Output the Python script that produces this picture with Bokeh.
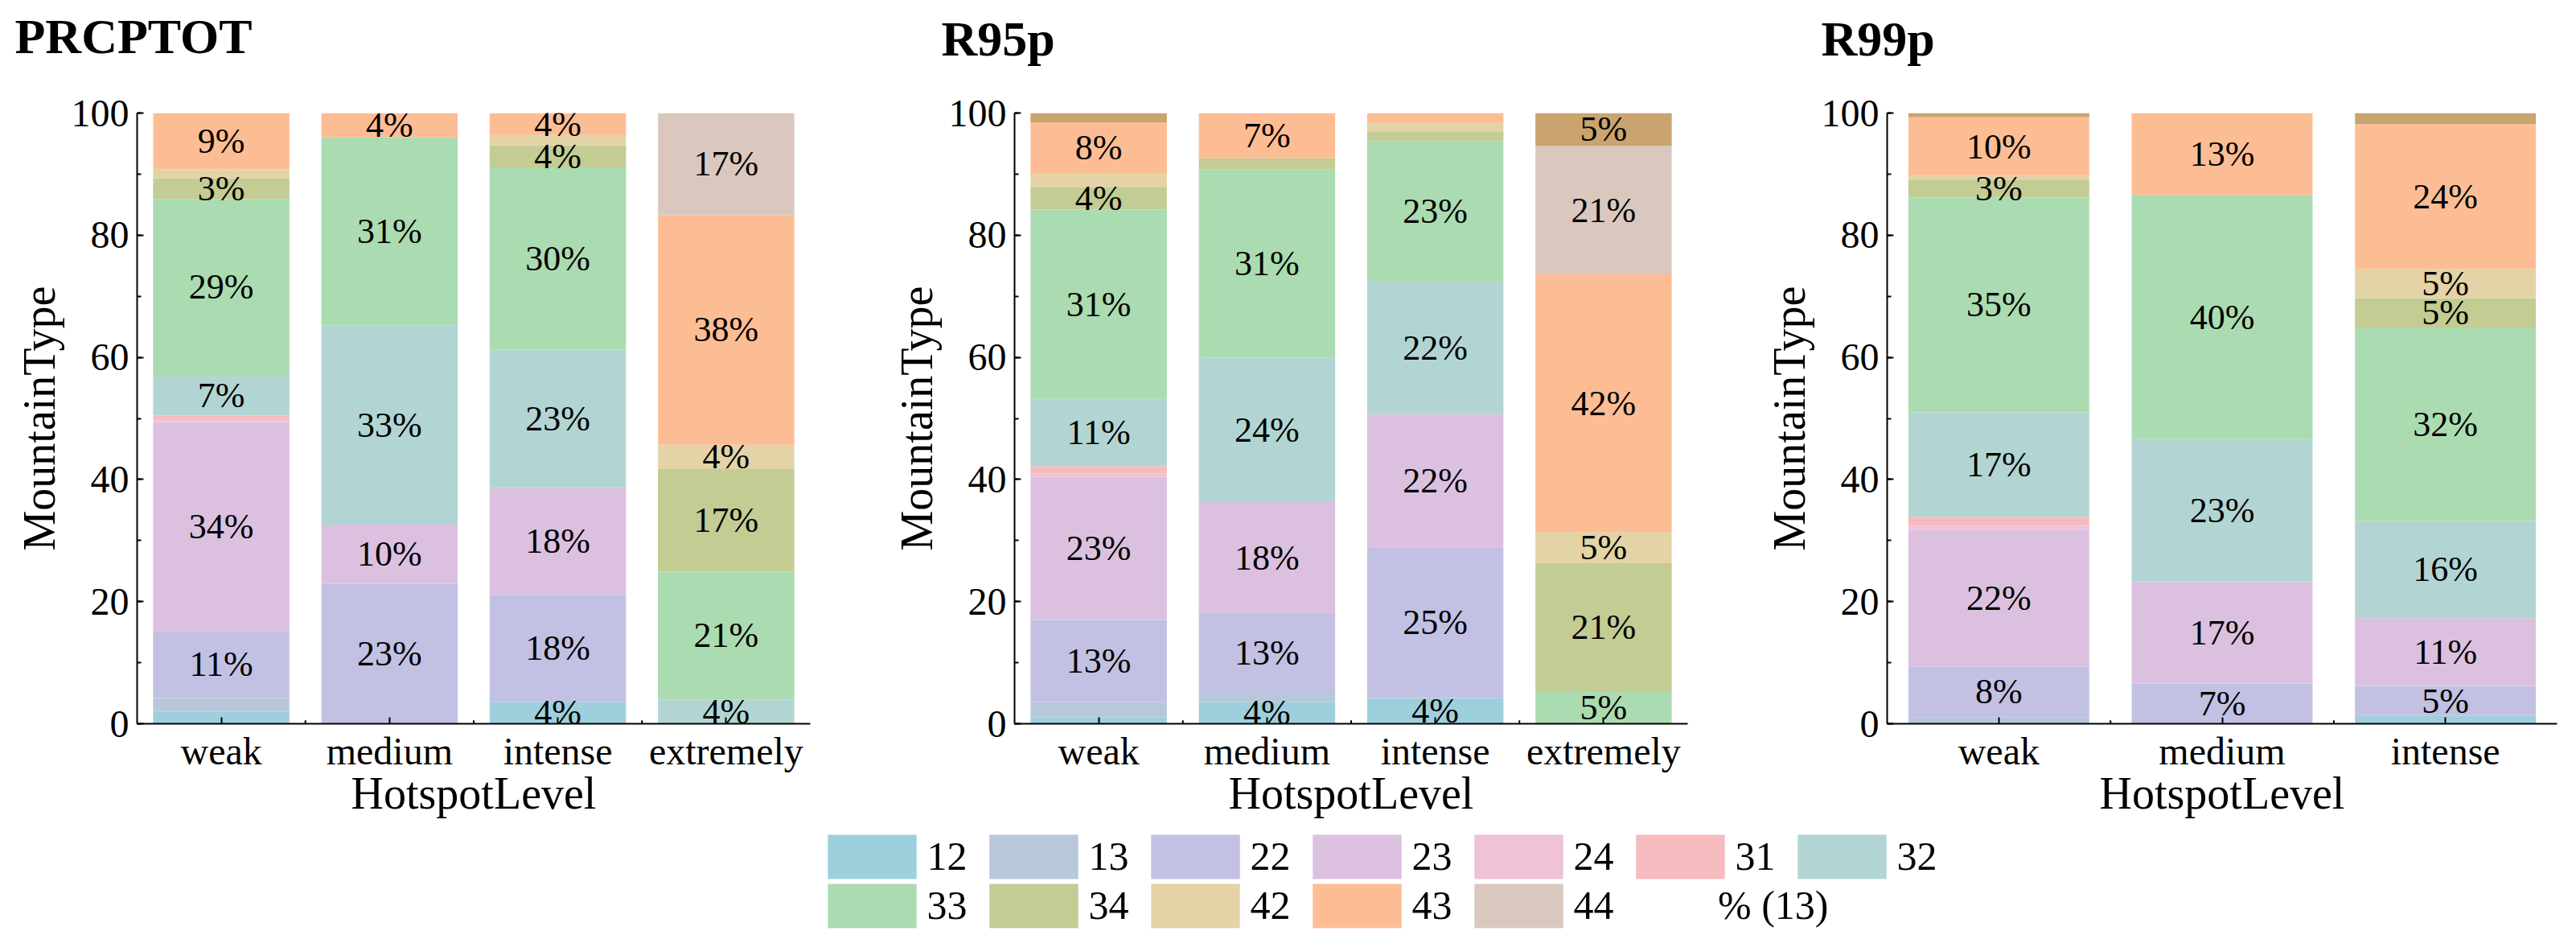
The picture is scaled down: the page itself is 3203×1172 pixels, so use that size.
from bokeh.plotting import figure
from bokeh.models import (ColumnDataSource, FactorRange, Range1d, SingleIntervalTicker,
                          Legend, LegendItem, Title)
from bokeh.layouts import row, column
from bokeh.core.properties import value
from bokeh.embed import file_html
from bokeh.resources import INLINE

FONT = "'Liberation Serif', 'Times New Roman', serif"

# ---------------- data ----------------
types = ["12", "13", "22", "23", "24", "31", "32", "33", "34", "42", "43", "44", "other"]
colors = ["#9ecfdc", "#b8c7da", "#c2c1e3", "#dbc1df", "#f0c2d6", "#f6bbbe", "#b2d5d3",
          "#abdbb0", "#c2cc93", "#e3d3a6", "#fdbd94", "#dac8be", "#c9a46f"]

levels4 = ["weak", "medium", "intense", "extremely"]
levels3 = ["weak", "medium", "intense"]

#                 12   13   22    23    24   31   32    33    34   42   43    44   other
prcptot_weak =    [2.0, 2.2, 11.0, 34.2, 0.6, 0.5, 6.6, 28.8, 3.4, 1.5, 9.2, 0.0, 0.0]
prcptot_medium =  [0.0, 0.0, 22.9, 9.7, 0.0, 0.0, 32.6, 30.8, 0.0, 0.0, 4.0, 0.0, 0.0]
prcptot_intense = [3.6, 0.0, 17.5, 17.5, 0.0, 0.0, 22.7, 29.8, 3.6, 1.7, 3.6, 0.0, 0.0]
prcptot_extreme = [0.0, 0.0, 0.0, 0.0, 0.0, 0.0, 4.0, 20.9, 16.8, 4.0, 37.6, 16.7, 0.0]

r95p_weak =       [1.1, 2.5, 13.4, 23.4, 0.6, 1.2, 11.0, 31.0, 3.6, 2.4, 8.3, 0.0, 1.5]
r95p_medium =     [3.6, 1.6, 12.9, 18.2, 0.0, 0.0, 23.6, 30.9, 1.8, 0.0, 7.4, 0.0, 0.0]
r95p_intense =    [4.2, 0.0, 24.7, 21.8, 0.0, 0.0, 21.7, 23.1, 1.4, 1.5, 1.6, 0.0, 0.0]
r95p_extreme =    [0.0, 0.0, 0.0, 0.0, 0.0, 0.0, 0.0, 5.2, 21.1, 5.1, 42.2, 21.0, 5.4]

r99p_weak =       [0.0, 1.1, 8.3, 22.4, 0.6, 1.5, 17.1, 35.2, 2.9, 0.6, 9.6, 0.0, 0.7]
r99p_medium =     [0.0, 0.0, 6.6, 16.6, 0.0, 0.0, 23.4, 40.0, 0.0, 0.0, 13.4, 0.0, 0.0]
r99p_intense =    [1.3, 0.0, 4.9, 11.1, 0.0, 0.0, 15.9, 31.7, 4.8, 4.7, 23.8, 0.0, 1.8]

legend_types = types[:12]
legend_colors = colors[:12]
extra_legend_label = "% (13)"

FIG_H = 1030
FRAME_TOP = 140
FRAME_BOTTOM = 899


def make_panel(title, levels, rows, width, mbl, mbr, title_dx, title_gap):
    data = {"level": levels}
    for i, t in enumerate(types):
        data[t] = [r[i] for r in rows]
    src = ColumnDataSource(data)
    p = figure(x_range=FactorRange(*levels), y_range=Range1d(0, 100),
               width=width, height=FIG_H, output_backend="svg", toolbar_location=None,
               min_border_left=mbl, min_border_right=mbr,
               min_border_top=FRAME_TOP, min_border_bottom=FIG_H - FRAME_BOTTOM)
    p.vbar_stack(types, x="level", width=0.81, source=src,
                 fill_color=colors, line_color=None)

    # segment labels
    xs, ys, txt = [], [], []
    for j, lev in enumerate(levels):
        bottom = 0.0
        for i, t in enumerate(types):
            v = rows[j][i]
            if v >= 2.75:
                xs.append(lev)
                ys.append(bottom + v / 2)
                txt.append(f"{round(v)}%")
            bottom += v
    p.text(x=xs, y=ys, text=txt, text_font=value(FONT), text_font_size="44px",
           text_align="center", text_baseline="middle", text_color="black")

    # small minor ticks between categories on the x axis
    bounds = list(range(1, len(levels)))
    p.segment(x0=bounds, x1=bounds, y0=[0] * len(bounds), y1=[0.55] * len(bounds),
              line_color="black", line_width=2)

    # panel title: an invisible spacer title next to the frame, the real one above it
    p.add_layout(Title(text=" ", text_font_size="10px", standoff=title_gap), "above")
    p.add_layout(Title(text=title, align="left", offset=title_dx, standoff=0,
                       vertical_align="bottom", text_font=FONT, text_font_size="62px",
                       text_font_style="bold", text_color="black"), "above")

    p.xgrid.visible = False
    p.ygrid.visible = False
    p.outline_line_color = None

    p.yaxis.ticker = SingleIntervalTicker(interval=20, num_minor_ticks=2)
    for ax in (p.xaxis, p.yaxis):
        ax.axis_line_width = 2
        ax.axis_line_color = "black"
        ax.major_tick_line_width = 2
        ax.major_tick_line_color = "black"
        ax.minor_tick_line_width = 2
        ax.minor_tick_line_color = "black"
        ax.major_tick_out = 0
        ax.minor_tick_out = 0
        ax.major_label_text_font = FONT
        ax.major_label_text_font_size = "48px"
        ax.major_label_text_color = "black"
        ax.axis_label_text_font = FONT
        ax.axis_label_text_font_size = "56px"
        ax.axis_label_text_font_style = "normal"
        ax.axis_label_text_color = "black"
    p.yaxis.major_tick_in = 8
    p.yaxis.minor_tick_in = 5
    p.yaxis.major_label_standoff = 10
    p.yaxis.axis_label_standoff = 6
    p.yaxis.axis_label = "MountainType"
    p.xaxis.major_tick_in = 8
    p.xaxis.major_label_standoff = 7
    p.xaxis.axis_label_standoff = -8
    p.xaxis.axis_label = "HotspotLevel"
    return p


p1 = make_panel("PRCPTOT", levels4,
                [prcptot_weak, prcptot_medium, prcptot_intense, prcptot_extreme],
                1100, 170, 93, -152, 49)
p2 = make_panel("R95p", levels4,
                [r95p_weak, r95p_medium, r95p_intense, r95p_extreme],
                1090, 161, 92, -91, 46)
p3 = make_panel("R99p", levels3,
                [r99p_weak, r99p_medium, r99p_intense],
                1005, 153, 16, -82, 46)

# ---------------- legend ----------------
LH = 142
lf = figure(width=3195, height=LH, x_range=Range1d(0, 1), y_range=Range1d(0, 1),
            output_backend="svg", toolbar_location=None, min_border=0,
            x_axis_type=None, y_axis_type=None)
lf.xgrid.visible = False
lf.ygrid.visible = False
lf.outline_line_color = None

items = []
for t, c in zip(legend_types, legend_colors):
    # one point far outside the visible range: only its legend swatch is seen
    r = lf.vbar(x=[-10], bottom=[-10], top=[-9], width=0.5, fill_color=c, line_color=None)
    items.append(LegendItem(label=t, renderers=[r]))
blank = lf.vbar(x=[-10], bottom=[-10], top=[-9], width=0.5, fill_alpha=0, line_alpha=0)
blank_item = LegendItem(label=extra_legend_label, renderers=[blank])

# area legend glyphs are drawn inset by 10% of the glyph box
GW, GH = 138, 69


def make_legend(its, loc):
    return Legend(items=its, location=loc, orientation="horizontal",
                  glyph_width=GW, glyph_height=GH, label_standoff=-4, spacing=13,
                  padding=0, margin=0, border_line_alpha=0, background_fill_alpha=0,
                  label_text_font=FONT, label_text_font_size="50px",
                  label_text_color="black")


X0 = 1028.3 - 0.1 * GW
STEP = 196.7
ROW1_TOP = 1036.7 - 0.1 * GH - FIG_H
ROW2_TOP = 1097.7 - 0.1 * GH - FIG_H
lf.add_layout(make_legend(items[:7], (X0, LH - ROW1_TOP - GH)), "center")
lf.add_layout(make_legend(items[7:12], (X0, LH - ROW2_TOP - GH)), "center")
lf.add_layout(make_legend([blank_item], (X0 + 5 * STEP, LH - ROW2_TOP - GH)), "center")

layout = column(row(p1, p2, p3), lf)
open("out.html", "w").write(file_html(layout, INLINE))
